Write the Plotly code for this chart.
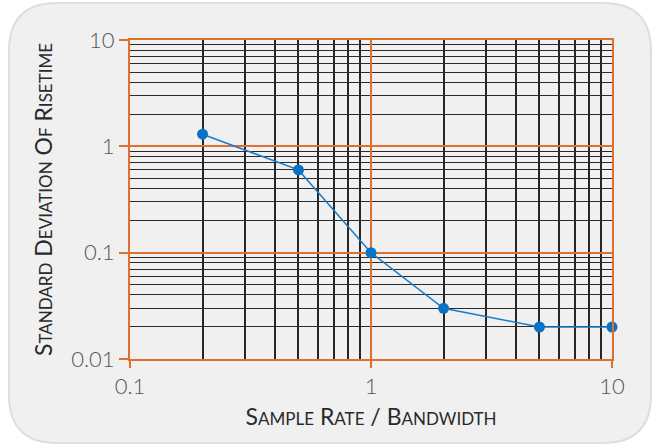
import plotly.graph_objects as go

x_vals = [0.2, 0.5, 1, 2, 5, 10]
y_vals = [1.3, 0.6, 0.1, 0.03, 0.02, 0.02]
x_ticks = [0.1, 1, 10]
x_tick_labels = ["0.1", "1", "10"]
y_ticks = [0.01, 0.1, 1, 10]
y_tick_labels = ["0.01", "0.1", "1", "10"]
x_minor = [a * b for b in (0.1, 1) for a in range(2, 10)]
y_minor = [a * b for b in (0.01, 0.1, 1) for a in range(2, 10)]

W, H = 653, 444
L, R, T, B = 130, 41, 40, 85
pw, ph = W - L - R, H - T - B

def px(x):
    return (x - L) / pw

def py(y):
    return (H - B - y) / ph

# rounded background panel in pixel coords
x0, x1, y0, y1, r = 9, 651, 3, 443, 48
path = (f"M {px(x0 + r)},{py(y0)} L {px(x1 - r)},{py(y0)} "
        f"Q {px(x1)},{py(y0)} {px(x1)},{py(y0 + r)} "
        f"L {px(x1)},{py(y1 - r)} Q {px(x1)},{py(y1)} {px(x1 - r)},{py(y1)} "
        f"L {px(x0 + r)},{py(y1)} Q {px(x0)},{py(y1)} {px(x0)},{py(y1 - r)} "
        f"L {px(x0)},{py(y0 + r)} Q {px(x0)},{py(y0)} {px(x0 + r)},{py(y0)} Z")

orange = "#e0702f"
font = "Lato"

fig = go.Figure()
fig.add_trace(go.Scatter(
    x=x_vals, y=y_vals, mode="lines+markers",
    line=dict(color="#1a7cc8", width=1.5),
    marker=dict(color="#0a72c4", size=11),
    cliponaxis=False, showlegend=False))

def sc(word_pairs, small):
    parts = []
    for first, rest in word_pairs:
        parts.append(f"{first}<span style='font-size:{small}px'>{rest}</span>")
    return " ".join(parts)

fig.update_layout(
    width=W, height=H,
    margin=dict(l=L, r=R, t=T, b=B),
    paper_bgcolor="white",
    plot_bgcolor="rgba(0,0,0,0)",
    font=dict(family=font, color="#444"),
    shapes=[dict(type="path", path=path, xref="paper", yref="paper",
                 fillcolor="#f0f0f0", line=dict(color="#dedede", width=2),
                 layer="below")],
    xaxis=dict(
        type="log", range=[-1, 1],
        tickvals=x_ticks, ticktext=x_tick_labels,
        tickfont=dict(size=22, color="#555", family=font, weight=300),
        showgrid=True, gridcolor=orange, gridwidth=1.5,
        showline=True, linecolor=orange, linewidth=2, mirror=True,
        ticks="outside", tickcolor=orange, ticklen=7, tickwidth=1.5,
        zeroline=False, automargin=False,
        minor=dict(tickvals=x_minor, showgrid=True, gridcolor="#262626",
                   gridwidth=1.6, ticks=""),
        title=dict(text=sc([("S", "AMPLE"), ("R", "ATE"), ("/", ""), ("B", "ANDWIDTH")], 17),
                   font=dict(size=23, color="#2a2a2a", family=font), standoff=10),
    ),
    yaxis=dict(
        type="log", range=[-2, 1],
        tickvals=y_ticks, ticktext=y_tick_labels,
        tickfont=dict(size=22, color="#555", family=font, weight=300),
        showgrid=True, gridcolor=orange, gridwidth=1.5,
        showline=True, linecolor=orange, linewidth=2, mirror=True,
        ticks="outside", tickcolor=orange, ticklen=9, tickwidth=1.5,
        zeroline=False, automargin=False,
        minor=dict(tickvals=y_minor, showgrid=True, gridcolor="#2a2a2a",
                   gridwidth=1, ticks=""),
        title=dict(text=sc([("S", "TANDARD"), ("D", "EVIATION"), ("O", "F"), ("R", "ISETIME")], 17),
                   font=dict(size=23, color="#2a2a2a", family=font), standoff=12),
    ),
)

fig.write_html("out.html", config={"displayModeBar": False},
               post_script="document.body.style.margin='0';")
